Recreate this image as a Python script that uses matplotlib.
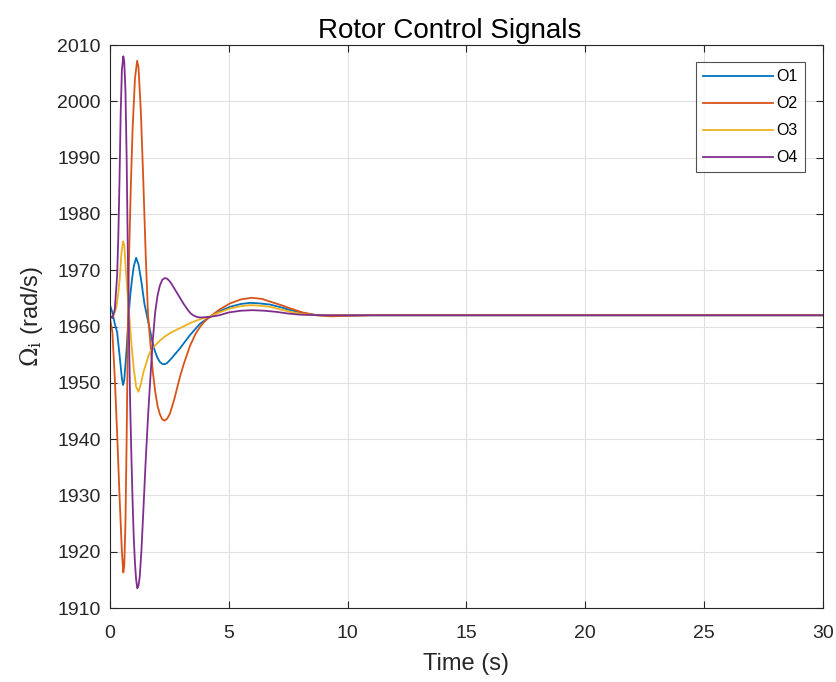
import matplotlib
matplotlib.use("Agg")
import matplotlib.pyplot as plt

plt.rcParams['font.family'] = ['Liberation Sans', 'DejaVu Sans']
plt.rcParams['mathtext.fontset'] = 'dejavuserif'

# O1 (blue)
t1 = [0, 0.1, 0.2, 0.3, 0.4, 0.5, 0.55, 0.6, 0.7, 0.76, 0.85, 0.93, 1.0, 1.1, 1.2,
      1.32, 1.45, 1.6, 1.8, 1.9, 2.0, 2.1, 2.2, 2.3, 2.4, 2.6, 2.94, 3.37, 3.79, 4.2,
      4.6, 5.05, 5.5, 5.9, 6.3, 6.73, 7.2, 7.6, 8.1, 8.7, 9.5, 11, 30]
o1 = [1963.8, 1962.5, 1960.5, 1959, 1955, 1950.8, 1949.6, 1950.5, 1956, 1960.5,
      1965.5, 1968.5, 1970.7, 1972.2, 1971, 1968, 1964, 1961, 1957, 1955.5, 1954.4,
      1953.7, 1953.35, 1953.3, 1953.5, 1954.4, 1956.1, 1958.5, 1960.5, 1961.7, 1962.7,
      1963.5, 1964, 1964.2, 1964.1, 1963.9, 1963.4, 1962.9, 1962.4, 1962.0, 1961.9,
      1962, 1962]

# O2 (orange)
t2 = [0, 0.1, 0.2, 0.3, 0.4, 0.5, 0.56, 0.6, 0.65, 0.7, 0.75, 0.8, 0.87, 0.95, 1.05,
      1.14, 1.2, 1.3, 1.4, 1.5, 1.6, 1.7, 1.8, 1.9, 2.0, 2.1, 2.2, 2.3, 2.4, 2.52,
      2.7, 2.94, 3.1, 3.37, 3.6, 3.8, 4.0, 4.2, 4.6, 5.05, 5.5, 5.95, 6.4, 6.75, 7.2,
      7.6, 8.1, 8.7, 9.3, 10, 11, 30]
o2 = [1961.5, 1959, 1951, 1941, 1930, 1920, 1916.3, 1917.5, 1925, 1940, 1958, 1972,
      1984, 1995, 2004, 2007.2, 2006, 1998, 1986, 1973, 1962, 1957, 1952, 1948.5,
      1945.9, 1944.4, 1943.5, 1943.3, 1943.6, 1944.5, 1947, 1951, 1953.3, 1956.6,
      1958.7, 1960, 1961, 1961.7, 1963, 1964.1, 1964.8, 1965.1, 1964.9, 1964.4, 1963.8,
      1963.2, 1962.5, 1962.0, 1961.8, 1961.9, 1962, 1962]

# O3 (yellow)
t3 = [0, 0.1, 0.2, 0.27, 0.35, 0.41, 0.48, 0.55, 0.6, 0.7, 0.8, 0.9, 1.0, 1.1, 1.2,
      1.3, 1.4, 1.54, 1.62, 1.7, 1.8, 1.89, 2.1, 2.3, 2.6, 2.94, 3.37, 3.79, 4.2, 4.6,
      5.05, 5.5, 5.9, 6.3, 6.73, 7.2, 7.6, 8.1, 8.7, 30]
o3 = [1961.5, 1961.6, 1962.5, 1963.5, 1966, 1968.5, 1973, 1975.1, 1974.5, 1968,
      1962.5, 1957, 1952.5, 1949.3, 1948.4, 1949.8, 1951.8, 1953.7, 1954.8, 1955.6,
      1956.2, 1956.6, 1957.5, 1958.2, 1959, 1959.7, 1960.6, 1961.3, 1961.8, 1962.5,
      1963.2, 1963.6, 1963.8, 1963.7, 1963.5, 1963, 1962.6, 1962.2, 1962.0, 1962]

# O4 (purple)
t4 = [0, 0.1, 0.2, 0.3, 0.35, 0.4, 0.45, 0.5, 0.56, 0.6, 0.65, 0.7, 0.75, 0.8, 0.85,
      0.9, 0.95, 1.0, 1.05, 1.1, 1.15, 1.2, 1.25, 1.32, 1.4, 1.5, 1.6, 1.7, 1.8, 1.9,
      2.0, 2.1, 2.2, 2.3, 2.4, 2.5, 2.6, 2.7, 2.9, 3.1, 3.3, 3.4, 3.5, 3.65, 3.8, 4.2,
      4.6, 5.0, 5.5, 6.0, 6.5, 7.0, 7.5, 8.0, 9.0, 30]
o4 = [1962, 1961.5, 1963, 1969, 1976, 1986, 1998, 2005.5, 2008, 2007, 2002, 1990,
      1973, 1958, 1946, 1937, 1929, 1922.5, 1918, 1915, 1913.5, 1914, 1915.5, 1920,
      1927, 1936, 1944, 1951, 1957.5, 1962.5, 1965.5, 1967.3, 1968.3, 1968.6, 1968.5,
      1968.1, 1967.5, 1966.8, 1965.4, 1964, 1962.8, 1962.3, 1962.0, 1961.7, 1961.6,
      1961.7, 1962, 1962.5, 1962.8, 1962.9, 1962.8, 1962.6, 1962.3, 1962.1, 1962, 1962]

labels = ['O1', 'O2', 'O3', 'O4']
colors = ['#0072BD', '#D95319', '#EDB120', '#7E2F8E']
xticks = [0, 5, 10, 15, 20, 25, 30]
yticks = list(range(1910, 2011, 10))

fig = plt.figure(figsize=(8.37, 6.82), dpi=100)
ax = fig.add_axes([110/837, 1 - 608/682, (823-110)/837, (608-45)/682])

for t, o, lab, c in zip([t1, t2, t3, t4], [o1, o2, o3, o4], labels, colors):
    ax.plot(t, o, color=c, lw=1.3, label=lab)

ax.set_xlim(0, 30)
ax.set_ylim(1910, 2010)
ax.set_xticks(xticks)
ax.set_yticks(yticks)
ax.tick_params(direction='in', labelsize=14, length=5, width=0.8, colors='#262626',
               top=True, right=True)
ax.tick_params(axis='x', pad=12.5)
ax.tick_params(axis='y', pad=6.5)
ax.grid(True, color='#E0E0E0', lw=0.8)
ax.set_axisbelow(True)
for s in ax.spines.values():
    s.set_color('#262626')
    s.set_linewidth(0.8)

ax.set_title('Rotor Control Signals', fontsize=20, color='#000000', pad=5,
             x=(450-110)/713)
ax.set_xlabel('Time (s)', fontsize=17, color='#262626')
ax.xaxis.set_label_coords(0.5, -(653-608)/563)
ax.set_ylabel(r'$\Omega_{\mathrm{i}}$ (rad/s)', fontsize=17, color='#262626')
ax.yaxis.set_label_coords(-(110-45)/713, (608-316.5)/563)

leg = ax.legend(loc='upper right', bbox_to_anchor=((805-110)/713, 1 - (62-45)/563),
                fontsize=11.5, frameon=True, fancybox=False, handlelength=4.4,
                handletextpad=0.2, labelspacing=0.75, borderpad=0.45,
                borderaxespad=0)
leg.get_frame().set_edgecolor('#262626')
leg.get_frame().set_linewidth(0.8)

fig.savefig('out.png', dpi=100)
